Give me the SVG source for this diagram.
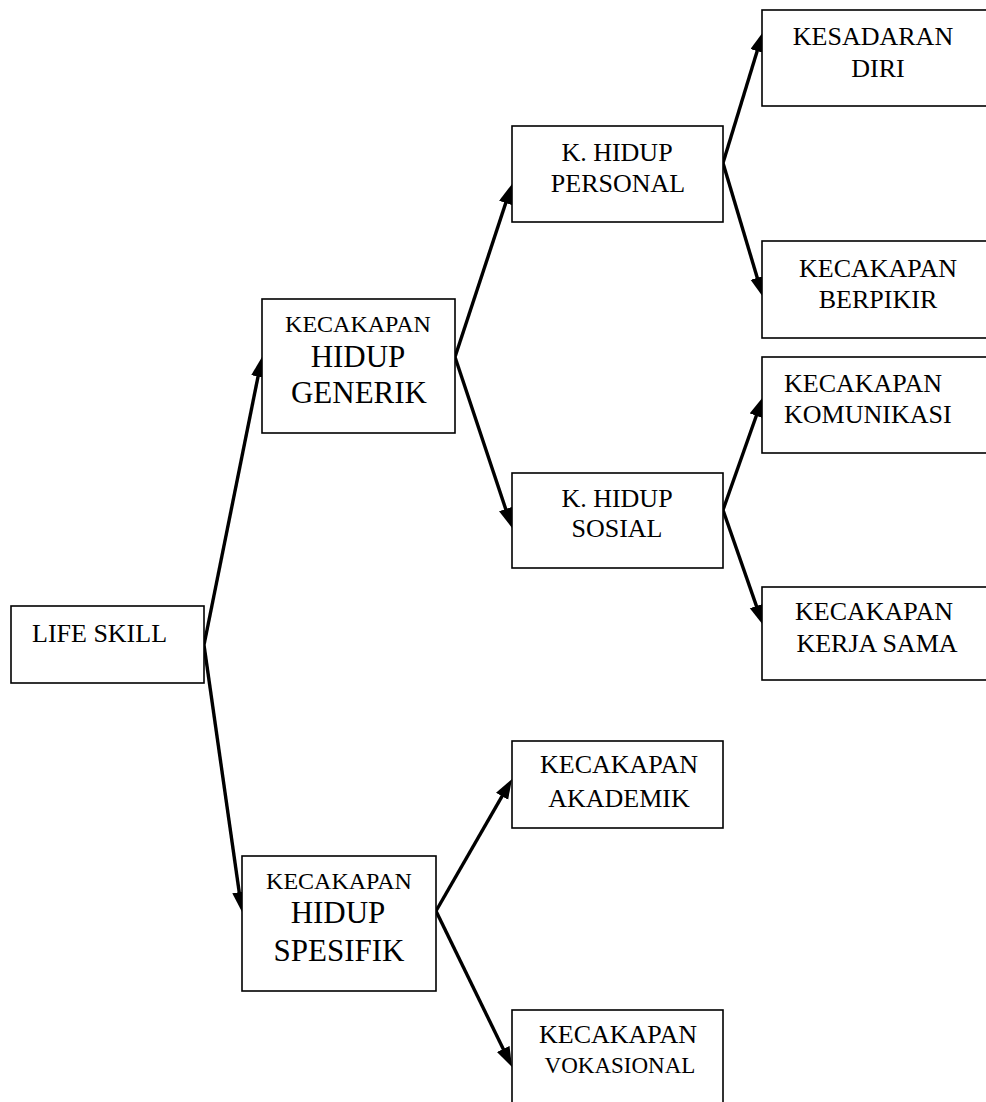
<svg xmlns="http://www.w3.org/2000/svg" width="986" height="1102" viewBox="0 0 986 1102">
<style>
.box{fill:#fff;stroke:#000;stroke-width:1.6}
.t{font-family:"Liberation Serif","Times New Roman",serif;font-size:26px;fill:#000;text-anchor:middle}
.s{font-size:24px}
.b{font-size:31px}
.c{fill:none;stroke:#000;stroke-width:3.4}
</style>
<defs>
<marker id="ah" markerUnits="userSpaceOnUse" markerWidth="22" markerHeight="16" viewBox="0 0 22 16" refX="12" refY="7" orient="auto">
<path d="M0,0 L20,7 L0,14 Z" fill="#000"/>
</marker>
</defs>
<rect width="986" height="1102" fill="#fff"/>
<g id="connectors">
<line class="c" x1="204" y1="645" x2="260.4" y2="364.8" marker-end="url(#ah)"/>
<line class="c" x1="204" y1="645" x2="240.9" y2="904.1" marker-end="url(#ah)"/>
<line class="c" x1="455" y1="357" x2="509.5" y2="191.6" marker-end="url(#ah)"/>
<line class="c" x1="455" y1="357" x2="509.5" y2="520.4" marker-end="url(#ah)"/>
<line class="c" x1="723" y1="163" x2="760.7" y2="39.6" marker-end="url(#ah)"/>
<line class="c" x1="723" y1="163" x2="760.7" y2="289.3" marker-end="url(#ah)"/>
<line class="c" x1="723" y1="510" x2="760.3" y2="404.5" marker-end="url(#ah)"/>
<line class="c" x1="723" y1="510" x2="760.4" y2="617.4" marker-end="url(#ah)"/>
<line class="c" x1="436" y1="911" x2="508" y2="785.9" marker-end="url(#ah)"/>
<line class="c" x1="436" y1="911" x2="508.5" y2="1059.8" marker-end="url(#ah)"/>
</g>
<g id="life-skill">
<rect class="box" x="11" y="606" width="193" height="77"/>
<text class="t" x="32" y="642" style="text-anchor:start">LIFE SKILL</text>
</g>
<g id="generik">
<rect class="box" x="262" y="299" width="193" height="134"/>
<text class="t s" x="358" y="332">KECAKAPAN</text>
<text class="t b" x="358" y="367">HIDUP</text>
<text class="t b" x="359" y="403">GENERIK</text>
</g>
<g id="spesifik">
<rect class="box" x="242" y="856" width="194" height="135"/>
<text class="t s" x="339" y="889">KECAKAPAN</text>
<text class="t b" x="338" y="923">HIDUP</text>
<text class="t b" x="339" y="961">SPESIFIK</text>
</g>
<g id="personal">
<rect class="box" x="512" y="126" width="211" height="96"/>
<text class="t" x="617" y="161">K. HIDUP</text>
<text class="t" x="618" y="192">PERSONAL</text>
</g>
<g id="sosial">
<rect class="box" x="512" y="473" width="211" height="95"/>
<text class="t" x="617" y="507">K. HIDUP</text>
<text class="t" x="617" y="537">SOSIAL</text>
</g>
<g id="akademik">
<rect class="box" x="512" y="741" width="211" height="87"/>
<text class="t" x="619" y="773">KECAKAPAN</text>
<text class="t" x="619" y="807">AKADEMIK</text>
</g>
<g id="vokasional">
<rect class="box" x="512" y="1010" width="211" height="110"/>
<text class="t" x="618" y="1043">KECAKAPAN</text>
<text class="t" x="620" y="1073" style="font-size:23px">VOKASIONAL</text>
</g>
<g id="kesadaran">
<rect class="box" x="762" y="10" width="240" height="96"/>
<text class="t" x="873" y="45">KESADARAN</text>
<text class="t" x="878" y="77">DIRI</text>
</g>
<g id="berpikir">
<rect class="box" x="762" y="241" width="240" height="97"/>
<text class="t" x="878" y="277">KECAKAPAN</text>
<text class="t" x="878" y="308">BERPIKIR</text>
</g>
<g id="komunikasi">
<rect class="box" x="762" y="357" width="240" height="96"/>
<text class="t" x="784" y="392" style="text-anchor:start">KECAKAPAN</text>
<text class="t" x="784" y="423" style="text-anchor:start">KOMUNIKASI</text>
</g>
<g id="kerja-sama">
<rect class="box" x="762" y="587" width="240" height="93"/>
<text class="t" x="874" y="620">KECAKAPAN</text>
<text class="t" x="877" y="652">KERJA SAMA</text>
</g>
</svg>
